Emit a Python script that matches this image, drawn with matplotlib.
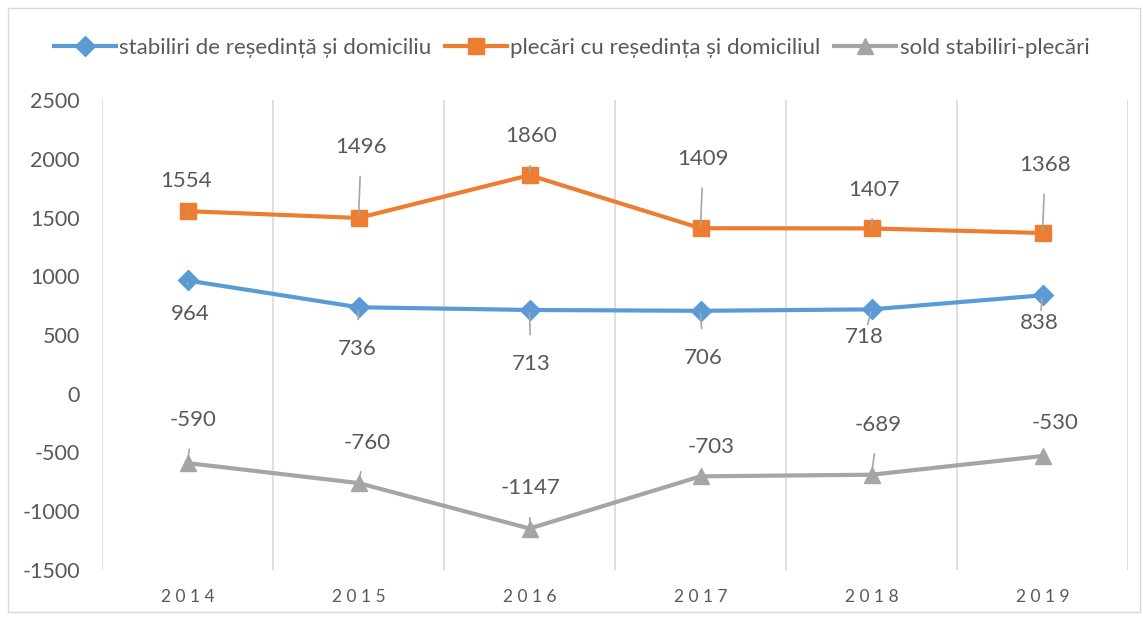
import numpy as np
import matplotlib.pyplot as plt
from matplotlib.patches import Rectangle

plt.rcParams['font.family'] = ['Lato', 'DejaVu Sans']
plt.rcParams['axes.unicode_minus'] = False

years = ['2014', '2015', '2016', '2017', '2018', '2019']
stabiliri = [964, 736, 713, 706, 718, 838]
plecari = [1554, 1496, 1860, 1409, 1407, 1368]
sold = [-590, -760, -1147, -703, -689, -530]

# label offsets in points (dx, dy) relative to the marker
off_stab = [(2, -24), (-1, -30), (1, -39), (2, -34), (-5, -20), (-2, -20)]
off_plec = [(-1, 22), (2, 51), (1, 28), (2, 50), (2, 28), (2, 49)]
off_sold = [(4, 31), (6, 29), (1, 29), (8, 21), (5, 36), (9, 24)]

text_col = '#595959'

fig = plt.figure(figsize=(11.43, 6.18), dpi=100)
ax = fig.add_axes([102 / 1143, 48 / 618, 1026 / 1143, 470 / 618])
fig.patches.append(Rectangle((8 / 1143, 6 / 618), 1132 / 1143, 604 / 618,
                             transform=fig.transFigure, fill=False,
                             edgecolor='#D9D9D9', linewidth=1))

x = np.arange(len(years))
series = [
    (stabiliri, '#5B9BD5', 'D', 10, 'stabiliri de reședință și domiciliu', off_stab),
    (plecari, '#ED7D31', 's', 12, 'plecări cu reședința și domiciliul', off_plec),
    (sold, '#A5A5A5', '^', 11, 'sold stabiliri-plecări', off_sold),
]
for vals, col, mk, ms, lab, offs in series:
    ax.plot(x, vals, color=col, linewidth=3, marker=mk, markersize=ms,
            label=lab, zorder=3)
    for xi, v, (dx, dy) in zip(x, vals, offs):
        ax.annotate(str(v), xy=(xi, v), xytext=(dx, dy),
                    textcoords='offset points', ha='center', va='center',
                    fontsize=16, color=text_col,
                    arrowprops=dict(arrowstyle='-', color='#A6A6A6', lw=1.2,
                                    shrinkA=12, shrinkB=2))

ax.set_xlim(-0.5, 5.5)
ax.set_ylim(-1500, 2500)
ax.set_yticks(np.arange(-1500, 2501, 500))
ax.set_xticks(x)
ax.set_xticklabels([' '.join(y) for y in years])
ax.tick_params(axis='both', length=0, colors=text_col)
ax.tick_params(axis='y', labelsize=15.5, pad=16)
ax.tick_params(axis='x', labelsize=12.5, pad=14)
for xv in np.arange(-0.5, 5.6, 1):
    ax.axvline(xv, color='#D9D9D9', linewidth=1.2, zorder=0)
for s in ax.spines.values():
    s.set_visible(False)

fig.legend(loc='center', bbox_to_anchor=(0.5, 1 - 48 / 618), ncol=3,
           frameon=False, fontsize=16, labelcolor=text_col,
           handlelength=2.8, columnspacing=0.6, handletextpad=0.15)

fig.savefig('out.png', dpi=100)
